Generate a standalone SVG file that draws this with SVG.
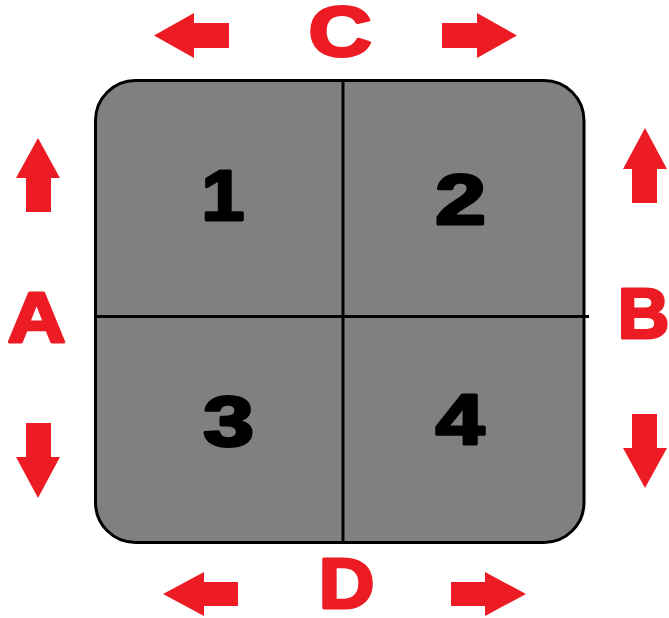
<svg xmlns="http://www.w3.org/2000/svg" width="669" height="618" viewBox="0 0 669 618">
<style>
.lbl{font-family:"Liberation Sans",Arial,sans-serif;font-weight:bold;font-size:70px;fill:#ED1C24;stroke:#ED1C24;stroke-width:3;stroke-linejoin:round;text-anchor:middle}
.num{font-family:"Liberation Sans",Arial,sans-serif;font-weight:bold;font-size:70px;fill:#000;stroke:#000;stroke-width:3;stroke-linejoin:round;text-anchor:middle}
.arr{fill:#ED1C24}
.ln{stroke:#000;stroke-width:3;fill:none}
</style>
<rect width="669" height="618" fill="#fff"/>
<g id="board">
<rect x="95.5" y="80.5" width="488.5" height="462" rx="40" ry="40" fill="#808080" stroke="#000" stroke-width="3"/>
<line class="ln" x1="95" y1="316.5" x2="589" y2="316.5"/>
<line class="ln" x1="343" y1="80" x2="343" y2="543" stroke-width="3.5"/>
</g>
<g id="cell1"><text class="num" transform="translate(223,219.5) scale(1.1,1)">1</text></g>
<g id="cell2"><text class="num" transform="translate(460.5,223.5) scale(1.3,1)">2</text></g>
<g id="cell3"><text class="num" transform="translate(228.5,445.5) scale(1.3,1)">3</text></g>
<g id="cell4"><text class="num" transform="translate(460,443.5) scale(1.25,1)">4</text></g>
<g id="labelA"><text class="lbl" transform="translate(36.5,341.5) scale(1.15,1)">A</text></g>
<g id="labelB"><text class="lbl" transform="translate(643.5,337.5) scale(1.02,1)">B</text></g>
<g id="labelC"><text class="lbl" transform="translate(340,55.5) scale(1.25,1)">C</text></g>
<g id="labelD"><text class="lbl" transform="translate(346.5,607.5) scale(1.1,1)">D</text></g>
<g id="arrows">
<polygon class="arr" points="154,35.5 194,13 194,23 229,23 229,48 194,48 194,58"/>
<polygon class="arr" points="517,35.5 477,13 477,23 442,23 442,48 477,48 477,58"/>
<polygon class="arr" points="38,138 60,178 51,178 51,212 26,212 26,178 16,178"/>
<polygon class="arr" points="26,423 51,423 51,457 60,457 38,498 16,457 26,457"/>
<polygon class="arr" points="645,128 667,169 657,169 657,203 632,203 632,169 623,169"/>
<polygon class="arr" points="632,414 657,414 657,448 667,448 645,488 623,448 632,448"/>
<polygon class="arr" points="163,594 204,572 204,582 238,582 238,606 204,606 204,616"/>
<polygon class="arr" points="526,594 485,572 485,582 451,582 451,606 485,606 485,616"/>
</g>
</svg>
